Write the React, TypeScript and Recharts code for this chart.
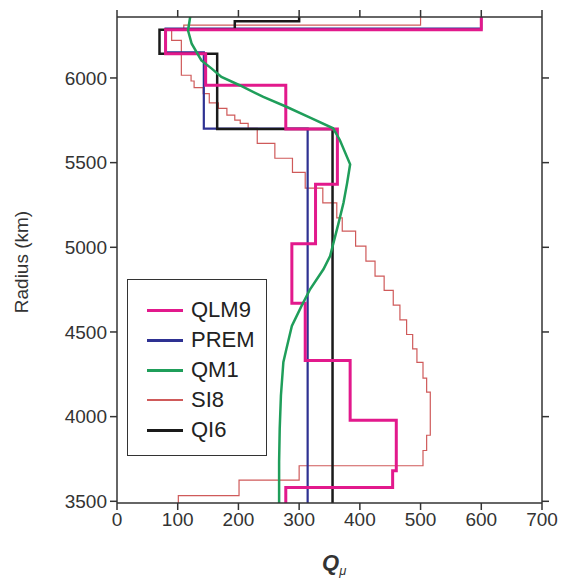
import * as React from "react"
import { LineChart, Line, XAxis, YAxis, Legend } from "recharts"

// step profiles: one Q value per layer, layer boundaries (radius, km) top -> bottom
const qlm9Q = [600, 80, 146, 278, 363, 327, 288, 310, 384, 460, 454, 278]
const qlm9R = [6371, 6285, 6143, 5957, 5698, 5373, 5021, 4670, 4331, 3978, 3680, 3582, 3480]

const premQ = [600, 80, 143, 314]
const premR = [6371, 6291, 6151, 5701, 3480]

const qi6Q = [300, 194, 70, 165, 355]
const qi6R = [6371, 6335, 6285, 6143, 5698, 3480]

const si8Q = [
  500, 110, 90, 106, 122, 127, 142, 152, 167, 181, 194, 203, 216, 231, 260, 289, 310, 339, 362,
  371, 393, 410, 425, 440, 455, 466, 477, 487, 494, 504, 510, 516, 510, 504, 300, 201, 101,
]
const si8R = [
  6371, 6312, 6285, 6222, 6016, 5982, 5943, 5908, 5853, 5820, 5781, 5751, 5732, 5703, 5614, 5526,
  5442, 5350, 5262, 5174, 5095, 5007, 4918, 4830, 4746, 4658, 4572, 4485, 4400, 4321, 4227, 4145,
  3890, 3800, 3710, 3625, 3533, 3480,
]

// smooth profile
const qm1Q = [121, 117, 123, 139, 156, 172, 202, 241, 279, 318, 356, 367, 384, 379, 373, 365, 351, 340, 318, 304, 288, 279, 274, 270, 268, 267, 267]
const qm1R = [6371, 6280, 6202, 6104, 6055, 6006, 5957, 5888, 5830, 5766, 5703, 5634, 5490, 5379, 5262, 5144, 4948, 4870, 4752, 4654, 4536, 4399, 4321, 4125, 3929, 3733, 3480]

const qTicks = [0, 100, 200, 300, 400, 500, 600, 700]
const radiusTicks = [3500, 4000, 4500, 5000, 5500, 6000]

const FONT = "'Liberation Sans', Arial, Helvetica, sans-serif"
const AXIS = "#333"

function steps(q: number[], r: number[]) {
  const pts: { q: number; r: number }[] = []
  q.forEach((v, i) => {
    pts.push({ q: v, r: r[i] })
    pts.push({ q: v, r: r[i + 1] })
  })
  return pts
}

const series = [
  { name: "QLM9", color: "#e2198c", width: 3, data: steps(qlm9Q, qlm9R) },
  { name: "PREM", color: "#2e3192", width: 2.2, data: steps(premQ, premR) },
  { name: "QM1", color: "#1f9e5a", width: 2.5, data: qm1Q.map((q, i) => ({ q, r: qm1R[i] })) },
  { name: "SI8", color: "#cf5a5a", width: 1.2, data: steps(si8Q, si8R) },
  { name: "QI6", color: "#1a1a1a", width: 2.5, data: steps(qi6Q, qi6R) },
]
const drawOrder = ["SI8", "PREM", "QI6", "QLM9", "QM1"]

// mirrored frame axes: tick marks only
const noLabel = () => <g />

function LegendBox() {
  return (
    <div
      style={{
        position: "absolute",
        left: 127,
        top: 279,
        width: 140,
        height: 177,
        border: "1.5px solid #333",
        background: "#fff",
        fontFamily: FONT,
        fontSize: 22,
        color: "#222",
        boxSizing: "border-box",
        paddingTop: 15,
      }}
    >
      {series.map((s) => (
        <div key={s.name} style={{ display: "flex", alignItems: "center", height: 30 }}>
          <div style={{ marginLeft: 19, width: 36, height: s.name === "SI8" ? 1.5 : 3, background: s.color }} />
          <span style={{ marginLeft: 8 }}>{s.name}</span>
        </div>
      ))}
    </div>
  )
}

export default function App() {
  return (
    <div style={{ position: "absolute", left: 0, top: 0, width: 562, height: 579, background: "#fff" }}>
      <LineChart width={562} height={579} margin={{ top: 14, right: 17, bottom: 36, left: 17 }}>
        <XAxis
          type="number"
          dataKey="q"
          domain={[0, 700]}
          ticks={qTicks}
          allowDataOverflow
          height={40}
          stroke={AXIS}
          strokeWidth={1.5}
          tickSize={7}
          tickMargin={3}
          tick={{ fill: "#333", fontSize: 19, fontFamily: FONT }}
        />
        <XAxis
          xAxisId="top"
          orientation="top"
          type="number"
          dataKey="q"
          domain={[0, 700]}
          ticks={qTicks}
          allowDataOverflow
          height={3}
          stroke={AXIS}
          strokeWidth={1.5}
          tickSize={7}
          tick={noLabel}
        />
        <YAxis
          type="number"
          dataKey="r"
          domain={[3490, 6360]}
          ticks={radiusTicks}
          allowDataOverflow
          width={100}
          stroke={AXIS}
          strokeWidth={1.5}
          tickSize={7}
          tickMargin={3}
          tick={{ fill: "#333", fontSize: 19, fontFamily: FONT }}
        />
        <YAxis
          yAxisId="right"
          orientation="right"
          type="number"
          dataKey="r"
          domain={[3490, 6360]}
          ticks={radiusTicks}
          allowDataOverflow
          width={3}
          stroke={AXIS}
          strokeWidth={1.5}
          tickSize={7}
          tick={noLabel}
        />
        {/* invisible copy bound to the mirrored frame axes */}
        <Line
          xAxisId="top"
          yAxisId="right"
          data={series[4].data}
          dataKey="r"
          stroke="none"
          dot={false}
          activeDot={false}
          legendType="none"
          isAnimationActive={false}
        />
        {drawOrder.map((n) => {
          const s = series.find((x) => x.name === n)!
          return (
            <Line
              key={s.name}
              name={s.name}
              data={s.data}
              dataKey="r"
              type="linear"
              stroke={s.color}
              strokeWidth={s.width}
              strokeLinejoin="miter"
              dot={false}
              activeDot={false}
              isAnimationActive={false}
            />
          )
        })}
        <Legend content={() => null} />
      </LineChart>
      <LegendBox />
      <div
        style={{
          position: "absolute",
          left: 22,
          top: 262,
          transform: "translate(-50%, -50%) rotate(-90deg)",
          fontFamily: FONT,
          fontSize: 19,
          color: "#333",
          whiteSpace: "nowrap",
        }}
      >
        Radius (km)
      </div>
      <div
        style={{
          position: "absolute",
          left: 322,
          top: 550,
          fontFamily: FONT,
          fontSize: 22,
          color: "#333",
          fontStyle: "italic",
          fontWeight: "bold",
          whiteSpace: "nowrap",
        }}
      >
        Q<sub style={{ fontSize: 13, fontWeight: "normal" }}>μ</sub>
      </div>
    </div>
  )
}
